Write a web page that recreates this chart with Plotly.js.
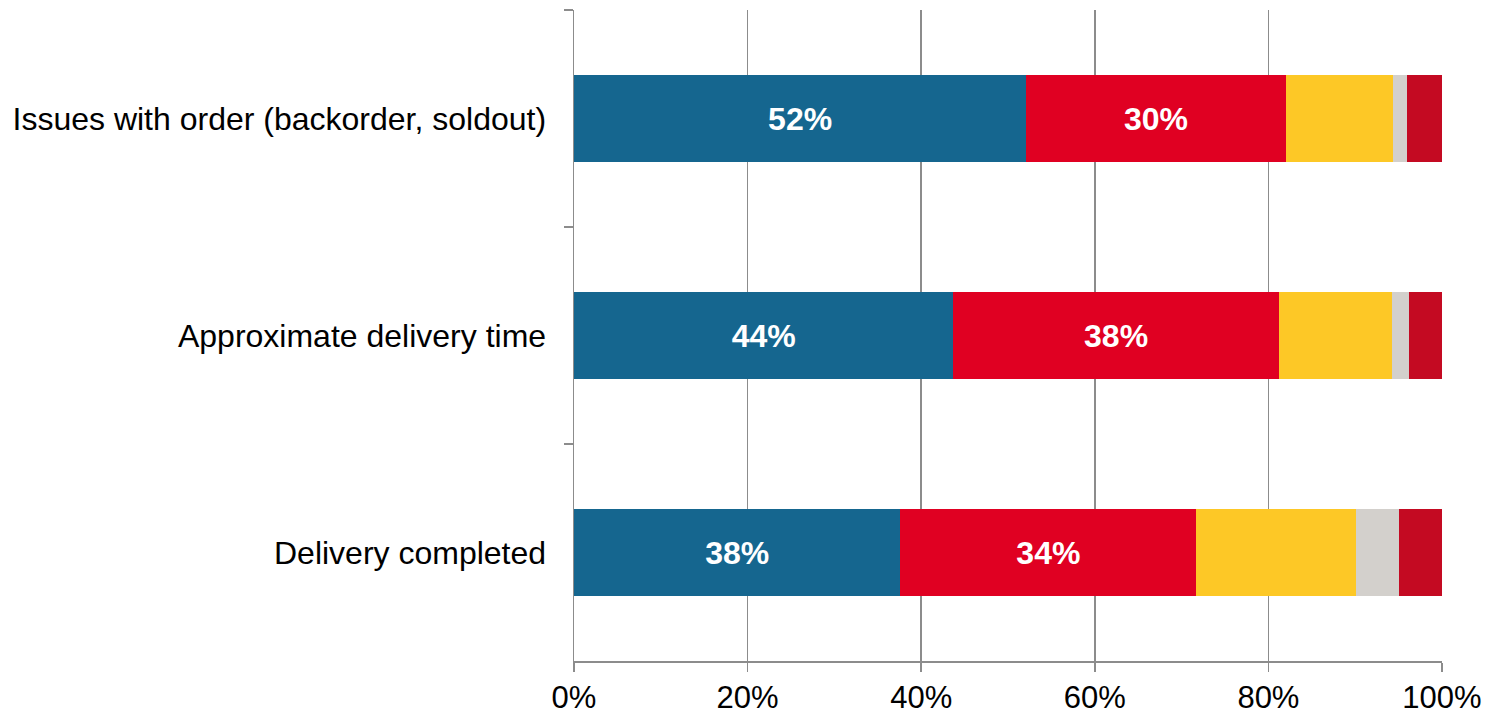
<!DOCTYPE html>
<html>
<head>
<meta charset="utf-8">
<script src="https://cdn.plot.ly/plotly-3.0.1.min.js"></script>
<style>
html,body{margin:0;padding:0;background:#fff;}
#chart{width:1493px;height:714px;}
</style>
</head>
<body>
<div id="chart"></div>
<script>
// Categories, top to bottom
const categories = [
  "Issues with order (backorder, soldout)",
  "Approximate delivery time",
  "Delivery completed"
];
// Series values (percent of each row)
const series1 = [52.1, 43.7, 37.6];
const series2 = [29.9, 37.5, 34.1];
const series3 = [12.3, 13.0, 18.4];
const series4 = [1.7, 2.0, 5.0];
const series5 = [4.0, 3.8, 4.9];
const xTickVals = [0, 20, 40, 60, 80, 100];
const xTickText = ["0%", "20%", "40%", "60%", "80%", "100%"];

const colors = ["#15668F", "#E00022", "#FDC826", "#D3D0CC", "#C40A22"];
const seriesList = [series1, series2, series3, series4, series5];

const traces = seriesList.map((vals, i) => {
  const t = {
    type: "bar",
    orientation: "h",
    y: categories,
    x: vals,
    marker: {color: colors[i], line: {width: 0}},
    hoverinfo: "skip",
    showlegend: false
  };
  if (i < 2) {
    t.texttemplate = "%{x:.0f}%";
    t.textposition = "inside";
    t.insidetextanchor = "middle";
    t.textangle = 0;
    t.insidetextfont = {family: "Liberation Sans, Arial, sans-serif", size: 32, color: "#ffffff", weight: "bold"};
    t.constraintext = "none";
  } else {
    t.textposition = "none";
  }
  return t;
});

const layout = {
  width: 1493,
  height: 714,
  margin: {l: 574, r: 51, t: 10, b: 53, pad: 0},
  paper_bgcolor: "#ffffff",
  plot_bgcolor: "#ffffff",
  barmode: "stack",
  bargap: 0.6,
  font: {family: "Liberation Sans, Arial, sans-serif", size: 31, color: "#000000"},
  xaxis: {
    range: [0, 100],
    tickvals: xTickVals,
    ticktext: xTickText,
    showgrid: true,
    gridcolor: "#8c8c8c",
    gridwidth: 1.5,
    zeroline: false,
    showline: true,
    linecolor: "#8c8c8c",
    linewidth: 1.5,
    ticks: "outside",
    ticklen: 9,
    tickwidth: 1.5,
    tickcolor: "#8c8c8c",
    ticklabelstandoff: -1,
    tickfont: {size: 31, color: "#000000"},
    fixedrange: true
  },
  yaxis: {
    type: "category",
    categoryorder: "array",
    categoryarray: categories,
    autorange: "reversed",
    showgrid: false,
    zeroline: false,
    showline: true,
    linecolor: "#8c8c8c",
    linewidth: 1.5,
    ticks: "outside",
    tickson: "boundaries",
    ticklen: 9,
    tickwidth: 1.5,
    tickcolor: "#8c8c8c",
    ticklabelstandoff: 20,
    tickfont: {size: 32, color: "#000000"},
    fixedrange: true
  }
};

Plotly.newPlot("chart", traces, layout, {displayModeBar: false, staticPlot: true});
</script>
</body>
</html>
